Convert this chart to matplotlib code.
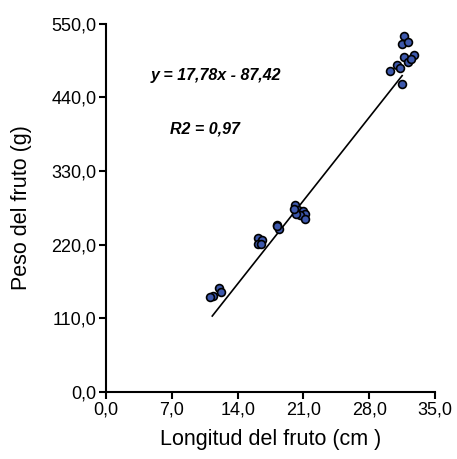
import numpy as np
import matplotlib.pyplot as plt

plt.rcParams['font.family'] = ['Liberation Sans', 'DejaVu Sans']

# longitud (cm) y peso (g) de los frutos
longitud = [11.35, 12.0, 12.2, 11.1,
            16.2, 16.6, 16.2, 16.5,
            18.2, 18.45, 18.2,
            20.07, 20.47, 20.92, 21.2, 20.65, 20.22, 21.13, 20.04,
            31.74, 31.53, 32.16, 31.74, 32.73, 32.16, 30.99, 31.24, 30.22, 31.53, 32.45]
peso = [143.7, 155.8, 149.8, 142.0,
        229.5, 226.5, 220.9, 221.4,
        250.0, 244.0, 247.6,
        278.8, 271.3, 270.3, 266.3, 264.3, 266.3, 259.2, 274.1,
        532.0, 520.4, 523.4, 501.2, 503.8, 493.2, 488.2, 484.1, 479.1, 459.5, 498.2]

pendiente = 17.78
intercepto = -87.42
x_linea = [11.3, 31.5]

xticks = [0, 7, 14, 21, 28, 35]
yticks = [0, 110, 220, 330, 440, 550]

fig = plt.figure(figsize=(4.57, 4.59), dpi=100)
ax = fig.add_axes([0.232, 0.146, 0.720, 0.802])

xl = np.array(x_linea)
ax.plot(xl, pendiente * xl + intercepto, color='black', lw=1.2, zorder=2)
ax.scatter(longitud, peso, s=32, color='#3d58ac', edgecolor='black', linewidth=1.2, zorder=3)

ax.text(4.7, 473, 'y = 17,78x - 87,42', fontsize=11.5, fontweight='bold', style='italic', va='center')
ax.text(6.8, 393, 'R2 = 0,97', fontsize=11.5, fontweight='bold', style='italic', va='center')

ax.set_xlim(0, 35)
ax.set_ylim(0, 550)
ax.set_xticks(xticks)
ax.set_yticks(yticks)
ax.set_xticklabels([f'{v:.1f}'.replace('.', ',') for v in xticks])
ax.set_yticklabels([f'{v:.1f}'.replace('.', ',') for v in yticks])
ax.tick_params(direction='out', length=5, width=1.5, labelsize=13, pad=2)
for s in ['top', 'right']:
    ax.spines[s].set_visible(False)
for s in ['left', 'bottom']:
    ax.spines[s].set_linewidth(1.5)

ax.set_xlabel('Longitud del fruto (cm )', fontsize=15.5)
ax.set_ylabel('Peso del fruto (g)', fontsize=15.5)
ax.xaxis.set_label_coords(0.5, -0.1)
ax.yaxis.set_label_coords(-0.225, 0.5)

plt.savefig('out.png', dpi=100)
